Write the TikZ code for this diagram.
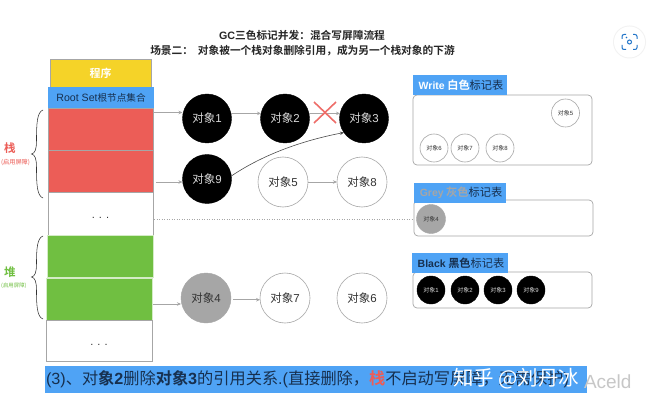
\documentclass[tikz,border=0pt]{standalone}
\usepackage{fontspec}
\setmainfont{Liberation Sans}
\newfontfamily\cjk{Noto Sans CJK SC}
\newfontfamily\cjkb{Noto Sans CJK SC Bold}
\usetikzlibrary{arrows.meta}
\definecolor{barblue}{HTML}{4FA3F5}
\definecolor{redbox}{HTML}{EC5D57}
\definecolor{greenbox}{HTML}{70BF41}
\definecolor{yellowbox}{HTML}{F5D328}
\definecolor{edgegrey}{HTML}{A6A6A6}
\definecolor{objgrey}{HTML}{A6A6A6}
\definecolor{textdark}{HTML}{333333}
\definecolor{navy}{HTML}{17304F}
\definecolor{iconblue}{HTML}{1E73C8}
\newcommand\ob[1]{对象{\rmfamily #1}}
\newcommand\mybrace[3]{\draw[draw=black!80,line width=.55pt]
  (43,#1) .. controls (37,#1+2) and (36.5,#1+14) .. (36.5,#2-14)
  .. controls (36.5,#2-4) and (35,#2-1) .. (31.5,#2)
  .. controls (35,#2+1) and (36.5,#2+4) .. (36.5,#2+14)
  .. controls (36.5,#3-14) and (37,#3-2) .. (43,#3);}
\tikzset{
  x=1pt,y=-1pt,
  every node/.style={font=\cjk,inner sep=0pt,outer sep=0pt},
  mem/.style={draw=edgegrey,line width=.8pt,minimum width=#1,anchor=north west},
  blk/.style={circle,draw=black,fill=black,text=white!85!black,minimum size=49pt,font=\cjk\fontsize{11.5}{14}\selectfont},
  wht/.style={circle,draw=edgegrey,fill=white,text=textdark,line width=.6pt,minimum size=50pt,font=\cjk\fontsize{11.5}{14}\selectfont},
  gry/.style={circle,draw=objgrey,fill=objgrey,text=textdark,minimum size=50pt,font=\cjk\fontsize{11.5}{14}\selectfont},
  sblk/.style={circle,draw=black,fill=black,text=white!85!black,minimum size=28pt,font=\cjk\fontsize{6}{7}\selectfont},
  swht/.style={circle,draw=edgegrey,fill=white,text=textdark,line width=.6pt,minimum size=28pt,font=\cjk\fontsize{6}{7}\selectfont},
  sgry/.style={circle,draw=objgrey,fill=objgrey,text=textdark,minimum size=29pt,font=\cjk\fontsize{6}{7}\selectfont},
  panel/.style={draw=edgegrey,fill=white,rounded corners=4pt,line width=.7pt,anchor=north west},
  paneltitle/.style={fill=barblue,anchor=north west,align=left,font=\cjkb\fontsize{11.2}{13}\selectfont},
  arr/.style={draw=edgegrey,line width=.8pt,-{Stealth[length=4pt,width=3.5pt]}},
}
\begin{document}
\begin{tikzpicture}
\useasboundingbox (0,0) rectangle (663,414);
\fill[white] (0,0) rectangle (663,414);
% title
\node[font=\cjkb\fontsize{10.7}{12}\selectfont,text=black!85] (t1) at (302,35) {{\rmfamily\bfseries GC}三色标记并发：混合写屏障流程};
\node[font=\cjkb\fontsize{10.7}{12}\selectfont,text=black!85] (t2) at (302.5,51) {场景二：\ \ 对象被一个栈对象删除引用，成为另一个栈对象的下游};
% scan icon
\fill[black!5] (629.5,42) circle (16.5pt);
\fill[white] (629.5,42) circle (15.5pt);
\begin{scope}[draw=iconblue,line width=1pt]
\draw[rounded corners=2pt] (622,39) -- (622,34.5) -- (626,34.5);
\draw[rounded corners=2pt] (633,34.5) -- (637,34.5) -- (637,39);
\draw[rounded corners=2pt] (622,45) -- (622,49.5) -- (626,49.5);
\draw[rounded corners=2pt] (633,49.5) -- (637,49.5) -- (637,45);
\draw (629.5,42) circle (2pt);
\fill[iconblue] (626.5,37.5) circle (.8pt);
\end{scope}
% memory column
\node[mem=101pt,minimum height=28pt,fill=yellowbox,text=white,font=\cjkb\fontsize{11}{13}\selectfont] (prog) at (50,59) {程序};
\node[anchor=north west,fill=barblue,minimum width=106pt,minimum height=21pt,text=navy,font=\cjk\fontsize{9.6}{13}\selectfont] (root) at (48,87) {{\rmfamily\fontsize{10.6}{13}\selectfont Root Set}根节点集合};
\node[mem=105pt,minimum height=42pt,fill=redbox] (r1) at (48,108) {};
\node[mem=105pt,minimum height=42pt,fill=redbox] (r2) at (48,150) {};
\node[mem=105pt,minimum height=43pt,fill=white,text=textdark,font=\rmfamily\fontsize{11}{13}\selectfont] (w1) at (48,192) {\raisebox{-10pt}{. . .}};
\node[mem=106pt,minimum height=42pt,fill=greenbox,draw=white!70!greenbox] (g1) at (47,235) {};
\node[mem=106pt,minimum height=42pt,fill=greenbox,draw=white!70!greenbox] (g2) at (46,278) {};
\node[mem=106pt,minimum height=41pt,fill=white,text=textdark,font=\rmfamily\fontsize{11}{13}\selectfont] (w2) at (46,320) {\raisebox{-10pt}{. . .}};
% braces
\mybrace{110}{154}{198}
\mybrace{236}{277}{319}
\node[text=redbox,font=\cjkb\fontsize{11.5}{13}\selectfont] (lz) at (10,148) {栈};
\node[text=redbox,font=\cjk\fontsize{6.2}{7}\selectfont,anchor=east] (lza) at (30,162) {(启用屏障)};
\node[text=greenbox,font=\cjkb\fontsize{11.5}{13}\selectfont] (ld) at (10,272) {堆};
\node[text=greenbox,font=\cjk\fontsize{5.4}{7}\selectfont,anchor=east] (lda) at (26.5,286) {(启用屏障)};
% objects
\node[blk] (o1) at (207,118.5) {\ob{1}};
\node[blk] (o2) at (285,118.5) {\ob{2}};
\node[blk] (o3) at (364,118.5) {\ob{3}};
\node[blk] (o9) at (207,179) {\ob{9}};
\node[wht] (o5) at (283,182) {\ob{5}};
\node[wht] (o8) at (362,182) {\ob{8}};
\node[gry] (o4) at (206,298) {\ob{4}};
\node[wht] (o7) at (285,298) {\ob{7}};
\node[wht] (o6) at (362,298) {\ob{6}};
% connectors
\coordinate (a1) at (154,112.5);
\coordinate (a2) at (156,182);
\coordinate (a3) at (153,304);
\draw[arr] (a1) -- (o1.west |- a1);
\draw[arr] (a2) -- (o9.west |- a2);
\draw[arr] (a3) -- (o4.west |- a3);
\draw[arr] (o1.12) -- (o2.168);
\draw[arr] (o2.12) -- (o3.168);
\draw[arr] (o5) -- (o8);
\draw[arr,shorten <=2pt] (o4.-4) -- (o7.184);
\draw[draw=black!70,line width=.6pt,-{Stealth[length=4pt,width=3.5pt]}] (o9.7) .. controls (258,158) and (295,142) .. (o3.215);
% cross
\draw[draw=redbox!90!white,line width=1.6pt] (314,102) -- (336,123) (336,102) -- (314,123);
% dotted
\coordinate (d1) at (154,219.5);
\draw[dotted,draw=edgegrey,line width=.5pt] (d1) -- (417,219.5);
% panels
\node[panel,minimum width=179pt,minimum height=70pt] (pw) at (413,95) {};
\node[paneltitle,minimum width=94pt,minimum height=20pt,text=white] (tw) at (413,75) {\hspace{2pt}{\rmfamily\bfseries\fontsize{10.5}{13}\selectfont Write} 白色\textcolor{navy}{\cjk 标记表}};
\node[panel,minimum width=179pt,minimum height=36pt] (pg) at (414,200) {};
\node[paneltitle,minimum width=92pt,minimum height=20pt,text=edgegrey] (tg) at (414,183) {\hspace{2pt}{\rmfamily\bfseries\fontsize{10.5}{13}\selectfont Grey} 灰色\textcolor{navy}{\cjk 标记表}};
\node[panel,minimum width=179pt,minimum height=36pt] (pb) at (413,272) {};
\node[paneltitle,minimum width=96pt,minimum height=20pt,text=navy] (tb) at (412,253) {\hspace{2pt}{\rmfamily\bfseries\fontsize{10.5}{13}\selectfont Black} 黑色{\cjk 标记表}};
\node[swht] (s5) at (565.5,113) {\ob{5}};
\node[swht] (s6) at (434,148) {\ob{6}};
\node[swht] (s7) at (465,148) {\ob{7}};
\node[swht] (s8) at (500,148) {\ob{8}};
\node[sgry] (s4) at (431,219) {\ob{4}};
\node[sblk] (s1) at (431,290) {\ob{1}};
\node[sblk] (s2) at (465,290) {\ob{2}};
\node[sblk] (s3) at (498,290) {\ob{3}};
\node[sblk] (s9) at (531,290) {\ob{9}};
% caption
\node[anchor=north west,fill=barblue,minimum width=542pt,minimum height=27pt] (cap) at (45,366) {};
\node[anchor=west,text=navy,font=\cjk\fontsize{16.2}{18}\selectfont] (capt) at (46,379.5) {{\rmfamily (3)}、对{\cjkb 象{\rmfamily\bfseries 2}}删除{\cjkb 对象{\rmfamily\bfseries 3}}的引用关系{\rmfamily .(}直接删除，\textcolor{redbox}{\cjkb 栈}不启动写屏障，无需保护{\rmfamily )}};
% watermark
\node[anchor=west,text=black!22,font=\rmfamily\fontsize{19}{21}\selectfont] (wm2) at (584,382) {Aceld};
\node[anchor=west,text=white,font=\cjk\fontsize{20.5}{24}\selectfont] (wm) at (453,379) {知乎 @刘丹冰};
\end{tikzpicture}
\end{document}
